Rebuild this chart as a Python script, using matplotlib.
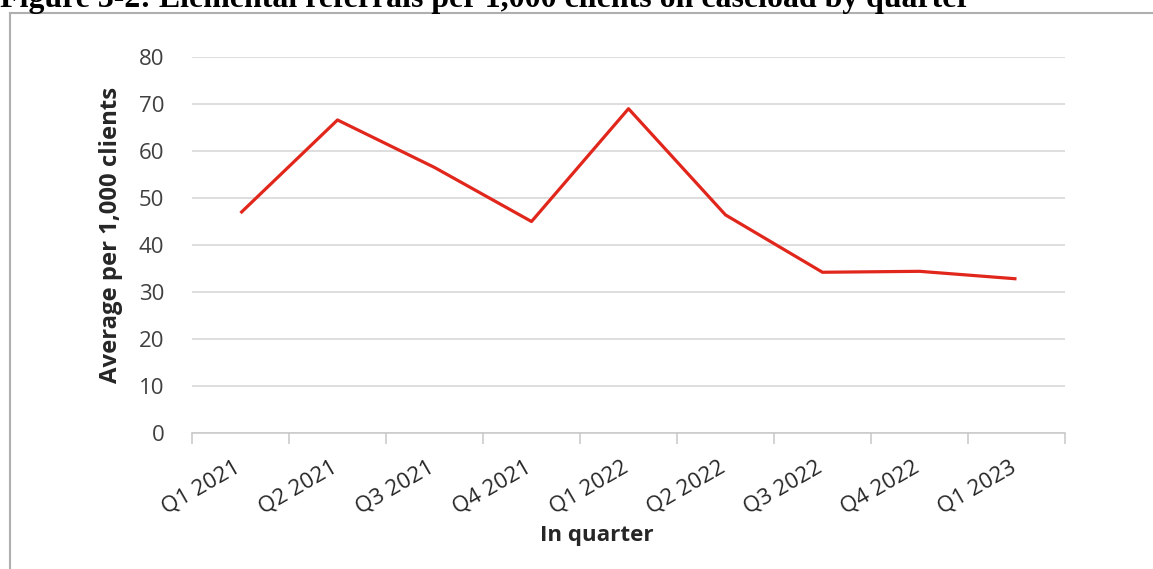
import matplotlib
matplotlib.use('Agg')
import matplotlib.pyplot as plt
import matplotlib.transforms as mtransforms
from matplotlib.lines import Line2D
import numpy as np

# data
quarters = ['Q1 2021', 'Q2 2021', 'Q3 2021', 'Q4 2021', 'Q1 2022',
            'Q2 2022', 'Q3 2022', 'Q4 2022', 'Q1 2023']
referrals_per_1000 = [46.8, 66.6, 56.5, 45.0, 69.0, 46.4, 34.2, 34.4, 32.8]

title = 'Figure 3-2: Elemental referrals per 1,000 clients on caseload by quarter'
ylabel = 'Average per 1,000 clients'
xlabel = 'In quarter'

W, H = 1153, 569
fig = plt.figure(figsize=(W / 100, H / 100), dpi=100)
fig.patch.set_facecolor('white')


def fit_width(txt, target_px, horizontal=True):
    # scale font so the text has roughly the wanted length in pixels
    fig.canvas.draw()
    bb = txt.get_window_extent()
    cur = bb.width if horizontal else bb.height
    txt.set_fontsize(txt.get_fontsize() * target_px / cur)


# frame around the chart (only left and top edges visible)
border = '#AFAFAF'
fig.add_artist(Line2D([10 / W, 10 / W], [-0.01, 1 - 12.5 / H], transform=fig.transFigure,
                      color=border, lw=1.5))
fig.add_artist(Line2D([10 / W, 1.01], [1 - 12.5 / H, 1 - 12.5 / H], transform=fig.transFigure,
                      color=border, lw=1.5))

# caption, cut off at the top like in the source
t = fig.text(0, 1 - 6.5 / H, title, fontsize=20, fontweight='bold',
             family='Liberation Serif', va='baseline', ha='left', color='black')
fit_width(t, 968)

ax = fig.add_axes([192 / W, 1 - 433 / H, (1065 - 192) / W, (433 - 57) / H])
x = np.arange(len(quarters))
ax.plot(x, referrals_per_1000, color='#E1261C', lw=2.3, solid_joinstyle='round',
        solid_capstyle='butt', zorder=3)

ax.set_xlim(-0.5, len(quarters) - 0.5)
ax.set_ylim(0, 80)
ax.set_yticks(np.arange(0, 81, 10))
ax.grid(axis='y', color='#D4D4D4', lw=1.1)
ax.set_axisbelow(True)

for s in ['top', 'right', 'left']:
    ax.spines[s].set_visible(False)
ax.spines['bottom'].set_color('#C8C8C8')
ax.spines['bottom'].set_linewidth(1.1)

ax.set_xticks(x)
ax.set_xticks(np.arange(-0.5, len(quarters)), minor=True)
ax.tick_params(axis='x', which='minor', length=8, color='#C8C8C8', width=1.1)
ax.tick_params(axis='x', which='major', length=0, pad=17)
ax.tick_params(axis='y', length=0, pad=20, labelsize=16, labelcolor='#404040')
ax.set_xticklabels(quarters, rotation=30, ha='right', va='top',
                   rotation_mode='anchor', fontsize=16, color='#262626',
                   family='Open Sans')
shift = mtransforms.ScaledTranslation(-7 / 100, 0, fig.dpi_scale_trans)
for lab in ax.get_xticklabels():
    lab.set_transform(lab.get_transform() + shift)
for lab in ax.get_yticklabels():
    lab.set_family('Open Sans')

ax.set_ylabel(ylabel, fontsize=15, fontweight='bold', family='Open Sans',
              color='#262626')
ax.yaxis.set_label_coords(-(192 - 111) / 873, (433 - 235) / 376)
ax.yaxis.label.set_va('center')
ax.set_xlabel(xlabel, fontsize=15, fontweight='bold', family='Open Sans',
              color='#262626')
ax.xaxis.set_label_coords((597 - 192) / 873, -(536 - 433) / 376)
ax.xaxis.label.set_va('center')
fit_width(ax.yaxis.label, 296, horizontal=False)
fit_width(ax.xaxis.label, 114)

fig.savefig('out.png', dpi=100, facecolor='white')
